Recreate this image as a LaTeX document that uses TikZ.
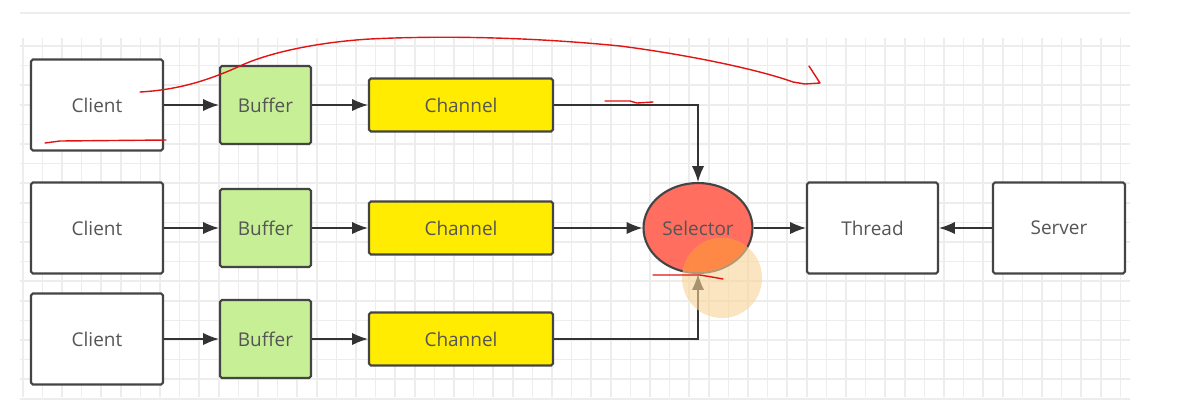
\documentclass[tikz,border=0pt]{standalone}
\usepackage{fontspec}
\setmainfont{Open Sans}
\usetikzlibrary{arrows.meta,shapes.geometric}
\definecolor{gridc}{RGB}{237,237,237}
\definecolor{boxline}{RGB}{68,68,68}
\definecolor{txt}{RGB}{85,85,85}
\definecolor{bufc}{RGB}{198,239,150}
\definecolor{chanc}{RGB}{255,236,0}
\definecolor{selc}{RGB}{255,110,95}
\definecolor{arrc}{RGB}{51,51,51}
\definecolor{penred}{RGB}{225,20,20}
\definecolor{halo}{RGB}{248,212,150}
\definecolor{halohot}{RGB}{255,132,62}
\tikzset{
  box/.style={draw=boxline, line width=1.2pt, rounded corners=1pt, inner sep=0pt,
    font=\fontsize{10.8}{12}\selectfont, text=txt},
  clientbox/.style={box, fill=white, minimum width=2.64cm, minimum height=1.82cm},
  bufbox/.style={box, fill=bufc, minimum width=1.82cm, minimum height=1.56cm},
  chanbox/.style={box, fill=chanc, minimum width=3.68cm, minimum height=1.06cm},
  selbox/.style={box, ellipse, fill=selc, minimum width=2.18cm, minimum height=1.8cm},
  flow/.style={draw=arrc, line width=0.85pt, -{Latex[length=9pt,width=7pt]}},
  pen/.style={draw=penred, line width=0.8pt, line cap=round, line join=round}
}
\begin{document}
\begin{tikzpicture}[x=0.02cm,y=-0.02cm]
\useasboundingbox (0,0) rectangle (1187,403);
\fill[white] (0,0) rectangle (1187,403);
% top separator line
\draw[gridc, line width=0.8pt] (20,13) -- (1130,13);
% grid
\foreach \i in {0,...,56} {
  \draw[gridc, line width=0.9pt] ({22.8+19.6*\i},38) -- ({22.8+19.6*\i},397);
}
\foreach \j in {0,...,18} {
  \draw[gridc, line width=0.9pt] (20,{46+19.6*\j}) -- (1130,{46+19.6*\j});
}
% nodes
\node[clientbox] (c1) at (97,105) {Client};
\node[clientbox] (c2) at (97,228) {Client};
\node[clientbox] (c3) at (97,339) {Client};
\node[bufbox] (b1) at (265.5,105) {Buffer};
\node[bufbox] (b2) at (265.5,228) {Buffer};
\node[bufbox] (b3) at (265.5,339) {Buffer};
\node[chanbox] (h1) at (461,105) {Channel};
\node[chanbox] (h2) at (461,228) {Channel};
\node[chanbox] (h3) at (461,339) {Channel};
\node[selbox] (sel) at (698,228) {Selector};
\node[clientbox, minimum width=2.62cm] (thr) at (872.5,228) {Thread};
\node[clientbox] (srv) at (1059,228) {Server};
% connectors
\draw[flow] (c1) -- (b1);
\draw[flow] (c2) -- (b2);
\draw[flow] (c3) -- (b3);
\draw[flow] (b1) -- (h1);
\draw[flow] (b2) -- (h2);
\draw[flow] (b3) -- (h3);
\draw[flow] (h1.east) -| (sel.north);
\draw[flow] (h2) -- (sel);
\draw[flow] (h3.east) -| (sel.south);
\draw[flow] (sel) -- (thr);
\draw[flow] (srv) -- (thr);
% cursor highlight
\fill[halo, opacity=0.6] (722,278) circle (40);
\begin{scope}
  \clip (698,228) ellipse (53.5 and 44);
  \fill[halohot, opacity=0.85] (722,278) circle (40);
\end{scope}
% red pen annotations
\draw[pen] (140,92) .. controls (175,90) and (205,82) .. (240,66)
  .. controls (270,52) and (320,42) .. (370,39)
  .. controls (450,35) and (540,38) .. (620,46)
  .. controls (690,55) and (760,70) .. (793,82)
  -- (805,84) -- (820,83) -- (809,66);
\draw[pen] (45,143) -- (60,141) -- (166,140);
\draw[pen] (605,101) -- (630,101) -- (637,103) -- (653,102);
\draw[pen] (653,275) -- (700,275) -- (712,277) -- (723,279);
\end{tikzpicture}
\end{document}
